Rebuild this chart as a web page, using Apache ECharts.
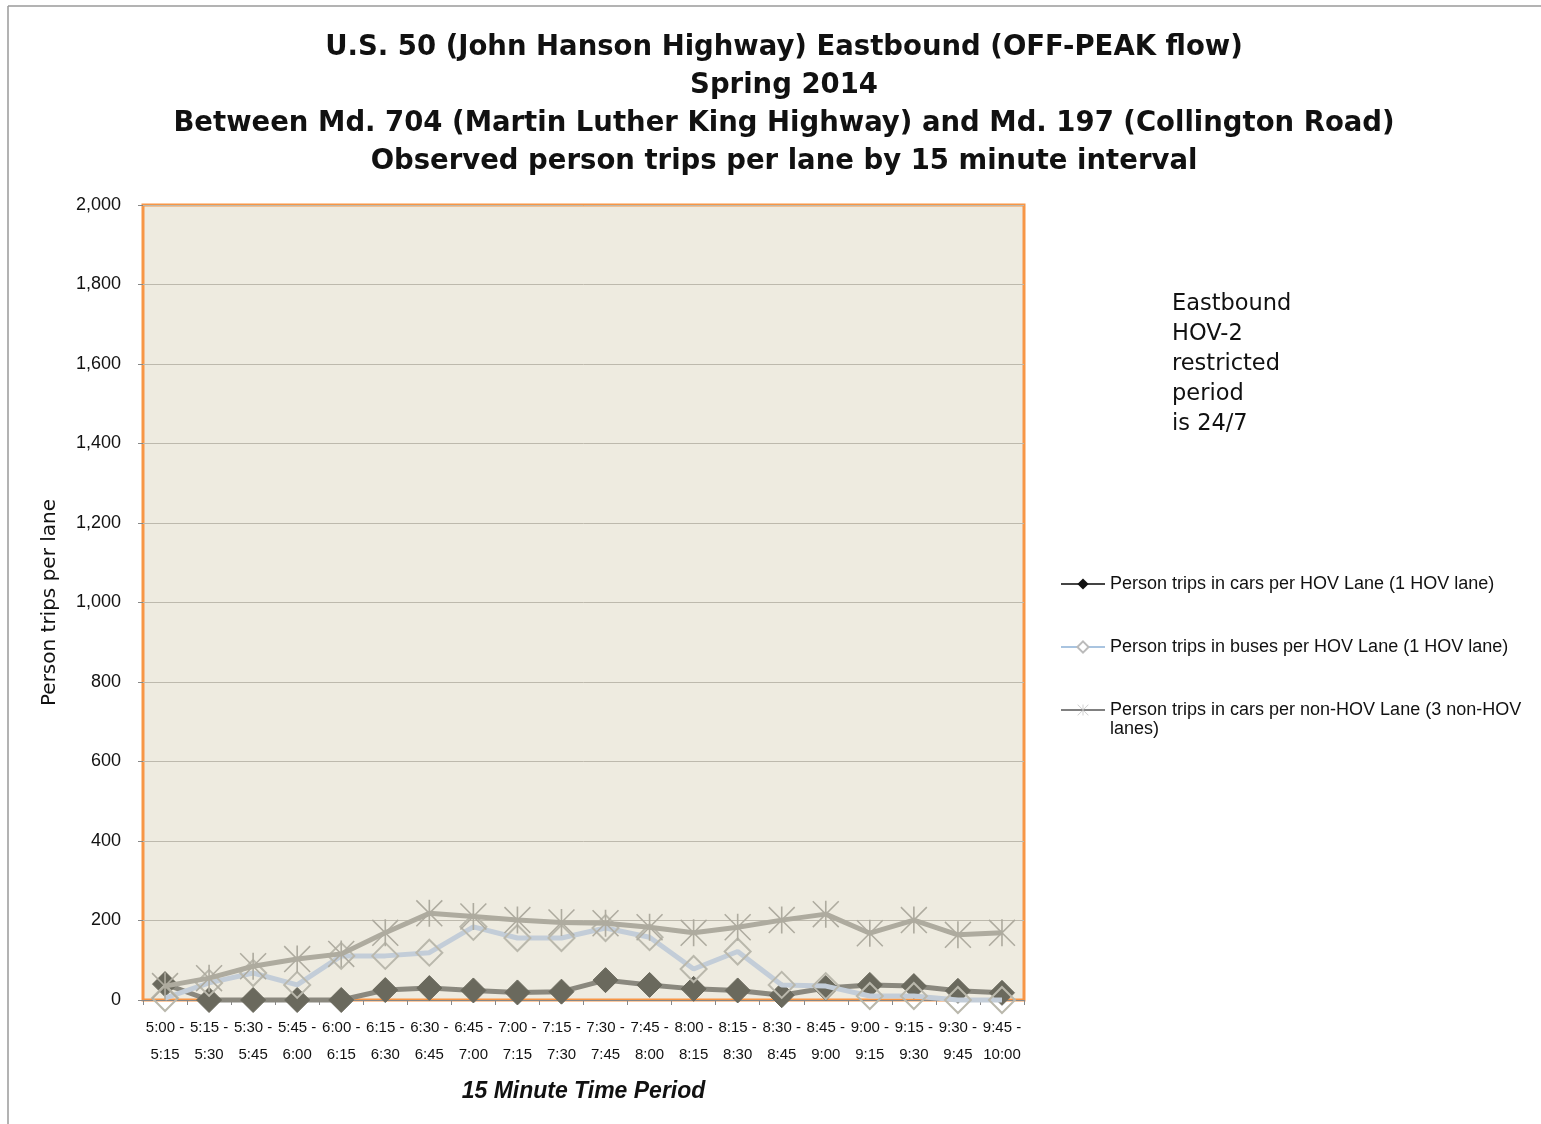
<!DOCTYPE html>
<html>
<head>
<meta charset="utf-8">
<script src="https://cdn.jsdelivr.net/npm/echarts@6/dist/echarts.min.js"></script>
<style>
html,body{margin:0;padding:0;background:#fff;}
#chart{width:1541px;height:1124px;}
</style>
</head>
<body>
<div id="chart"></div>
<script>
var periods = ['5:00 -\n5:15','5:15 -\n5:30','5:30 -\n5:45','5:45 -\n6:00','6:00 -\n6:15','6:15 -\n6:30','6:30 -\n6:45','6:45 -\n7:00','7:00 -\n7:15','7:15 -\n7:30','7:30 -\n7:45','7:45 -\n8:00','8:00 -\n8:15','8:15 -\n8:30','8:30 -\n8:45','8:45 -\n9:00','9:00 -\n9:15','9:15 -\n9:30','9:30 -\n9:45','9:45 -\n10:00'];
var hovCars = [40, 0, 0, 0, 0, 25, 30, 24, 19, 21, 50, 38, 28, 24, 12, 30, 38, 35, 23, 18];
var hovBuses = [5, 43, 68, 38, 111, 111, 119, 184, 156, 156, 181, 158, 78, 122, 38, 35, 10, 10, 0, 0];
var nonHovCars = [35, 55, 85, 103, 116, 169, 218, 210, 201, 195, 193, 183, 169, 183, 201, 216, 168, 201, 164, 169];
var seriesNames = ['Person trips in cars per HOV Lane (1 HOV lane)', 'Person trips in buses per HOV Lane (1 HOV lane)', 'Person trips in cars per non-HOV Lane (3 non-HOV'];

var star = 'path://M47,0 L53,0 L53,100 L47,100 Z M0,4 L4,0 L100,96 L96,100 Z M96,0 L100,4 L4,100 L0,96 Z';
var sans = '"Liberation Sans", sans-serif';

var chart = echarts.init(document.getElementById('chart'));
chart.setOption({
  backgroundColor: '#fff',
  animation: false,
  title: {
    text: 'U.S. 50 (John Hanson Highway) Eastbound (OFF-PEAK flow)\nSpring 2014\nBetween Md. 704 (Martin Luther King Highway) and Md. 197 (Collington Road)\nObserved person trips per lane by 15 minute interval',
    left: 779, top: 24, textAlign: 'center',
    textStyle: { fontFamily: '"DejaVu Sans", sans-serif', fontWeight: 'bold', fontSize: 27.5, lineHeight: 38, color: '#111' }
  },
  grid: { left: 143, right: 517, top: 205, bottom: 124, show: true, backgroundColor: '#EEEBE0', borderColor: '#F79646', borderWidth: 3, z: 0 },
  legend: {
    orient: 'vertical', left: 1055, top: 566, itemGap: 37, itemWidth: 44, itemHeight: 14,
    textStyle: { fontFamily: sans, fontSize: 18, lineHeight: 26, color: '#111' },
    data: [
      { name: seriesNames[0], itemStyle: { color: '#111', borderColor: '#111' }, lineStyle: { color: '#444' } },
      { name: seriesNames[1], itemStyle: { color: '#fff', borderColor: '#bbb' }, lineStyle: { color: '#A9C4E0' } },
      { name: seriesNames[2], itemStyle: { color: '#bbb' }, lineStyle: { color: '#808080' } }
    ]
  },
  xAxis: {
    type: 'category', data: periods, boundaryGap: true,
    name: '15 Minute Time Period', nameLocation: 'middle', nameGap: 80,
    nameTextStyle: { fontFamily: sans, fontWeight: 'bold', fontStyle: 'italic', fontSize: 23, color: '#111' },
    axisLine: { show: true, lineStyle: { color: '#888' } },
    axisTick: { show: true, length: 5, lineStyle: { color: '#888' } },
    axisLabel: { interval: 0, fontFamily: sans, fontSize: 15, lineHeight: 27, color: '#111', margin: 14 }
  },
  yAxis: {
    type: 'value', min: 0, max: 2000, interval: 200,
    name: 'Person trips per lane', nameLocation: 'middle', nameGap: 83,
    nameTextStyle: { fontFamily: '"DejaVu Sans", sans-serif', fontSize: 20, color: '#111' },
    axisLine: { show: false },
    axisTick: { show: true, length: 5, lineStyle: { color: '#888' } },
    splitLine: { lineStyle: { color: '#BDB9AD', width: 1 } },
    axisLabel: { fontFamily: sans, fontSize: 18, color: '#111', margin: 22,
      formatter: function (v) { return v.toLocaleString('en-US'); } }
  },
  series: [
    { name: seriesNames[0], type: 'line', data: hovCars, clip: false, z: 3,
      symbol: 'diamond', symbolSize: 25,
      lineStyle: { color: '#8A887E', width: 5 },
      itemStyle: { color: '#6A695D', borderColor: '#6A695D' },
      emphasis: { disabled: true } },
    { name: seriesNames[1], type: 'line', data: hovBuses, clip: false, z: 4,
      symbol: 'diamond', symbolSize: 26,
      lineStyle: { color: '#C3CDD8', width: 5 },
      itemStyle: { color: 'rgba(0,0,0,0)', borderColor: '#BAB8AC', borderWidth: 2 },
      emphasis: { disabled: true } },
    { name: seriesNames[2], type: 'line', data: nonHovCars, clip: false, z: 5,
      symbol: star, symbolSize: 27,
      lineStyle: { color: '#AEAB9F', width: 5 },
      itemStyle: { color: '#AEAB9F' },
      emphasis: { disabled: true } }
  ],
  graphic: [
    { type: 'line', shape: { x1: 8, y1: 6, x2: 1541, y2: 6 }, style: { stroke: '#9a9a9a', lineWidth: 1.5 } },
    { type: 'line', shape: { x1: 8, y1: 6, x2: 8, y2: 1124 }, style: { stroke: '#9a9a9a', lineWidth: 1.5 } },
    { type: 'text', left: 1172, top: 289, style: { text: 'Eastbound\nHOV-2\nrestricted\nperiod\nis 24/7', font: '22.5px "DejaVu Sans", sans-serif', lineHeight: 30, fill: '#111' } },
    { type: 'text', left: 1110, top: 720, style: { text: 'lanes)', font: '18px "Liberation Sans", sans-serif', fill: '#111' } }
  ]
});
</script>
</body>
</html>
